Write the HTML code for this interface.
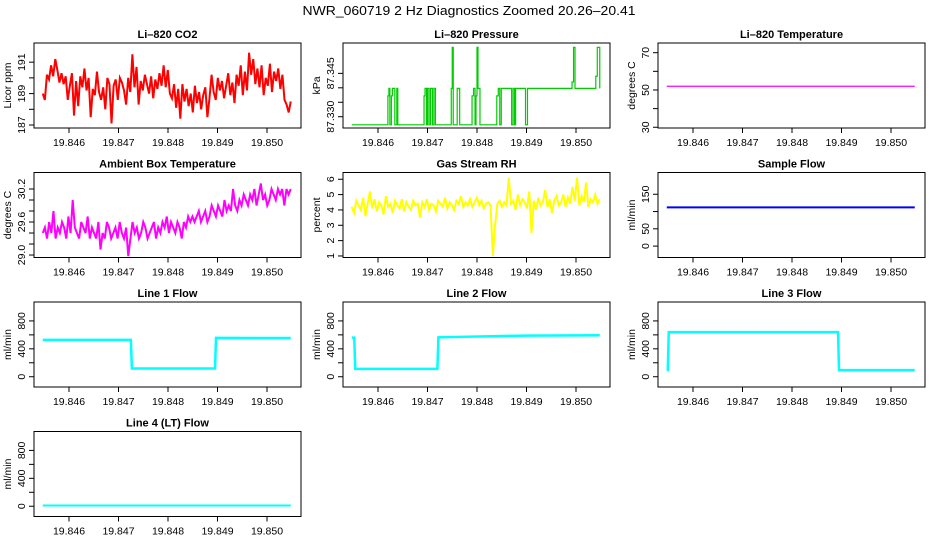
<!DOCTYPE html>
<html><head><meta charset="utf-8">
<style>
html,body{margin:0;padding:0;background:#fff;}
svg{display:block;font-family:"Liberation Sans",sans-serif;}
</style></head>
<body>
<svg id="fig" width="936" height="540" viewBox="0 0 936 540" xmlns="http://www.w3.org/2000/svg">
<rect width="936" height="540" fill="#fff"/>
<text x="469" y="15" text-anchor="middle" font-size="13" textLength="333" lengthAdjust="spacingAndGlyphs">NWR_060719  2 Hz Diagnostics Zoomed 20.26–20.41</text>
</svg>
<script>
// ---- data ----
const xTicks = [19.846, 19.847, 19.848, 19.849, 19.850];
const xTickLabels = ["19.846", "19.847", "19.848", "19.849", "19.850"];
const tStart = 19.84547;
const tEnd = 19.85048;

const co2Values = [189.0,188.6,190.2,189.9,190.8,190.1,191.2,190.5,189.7,190.3,189.6,190.1,188.6,189.5,190.3,187.6,189.8,188.2,190.1,189.4,190.6,189.2,190.0,187.5,189.3,188.9,190.4,189.1,188.6,189.4,188.0,190.0,189.6,187.1,189.5,189.9,188.6,190.0,189.7,189.2,188.3,190.0,189.1,191.5,189.4,190.7,188.3,189.8,189.2,190.2,189.6,189.0,190.1,188.7,189.9,189.3,190.3,189.5,190.8,189.4,190.5,189.0,188.7,189.6,188.1,189.3,187.4,189.6,188.5,189.3,188.2,189.0,187.8,189.5,188.4,189.1,188.0,188.9,189.4,187.5,188.7,190.2,189.1,188.6,190.0,189.2,189.8,188.7,189.5,190.3,188.9,189.7,188.4,190.2,189.5,190.8,188.9,190.4,189.2,191.6,190.2,191.2,189.6,190.6,189.4,190.8,188.9,190.0,189.5,190.9,189.1,190.4,189.8,190.6,189.3,190.2,188.6,188.3,187.8,188.5];

const ambientValues = [29.4,29.5,29.3,29.6,29.4,29.8,29.3,29.5,29.4,29.6,29.5,29.3,29.7,29.4,30.0,29.5,29.4,29.3,29.6,29.5,29.4,29.7,29.3,29.5,29.4,29.3,29.6,29.1,29.4,29.3,29.6,29.5,29.3,29.4,29.5,29.3,29.6,29.4,29.3,29.5,28.98,29.3,29.6,29.4,29.5,29.3,29.4,29.6,29.5,29.3,29.4,29.5,29.6,29.3,29.5,29.4,29.6,29.5,29.7,29.4,29.6,29.5,29.4,29.6,29.5,29.3,29.6,29.5,29.7,29.6,29.7,29.6,29.7,29.8,29.6,29.7,29.8,29.6,29.7,29.9,29.8,29.7,29.9,29.8,29.7,30.0,29.8,29.9,29.8,30.2,29.9,29.8,30.0,29.9,30.1,30.0,29.9,30.1,30.0,30.2,29.9,30.1,30.3,30.0,30.1,29.9,30.0,30.2,30.1,30.0,30.2,30.1,30.2,29.9,30.2,30.1,30.2];

const rhValues = [4.2,3.8,4.6,4.3,4.0,4.8,3.6,4.4,5.2,4.1,4.7,3.9,4.5,4.3,3.7,4.9,4.2,4.4,3.8,4.6,4.3,4.1,4.7,3.9,4.5,4.2,4.0,4.6,4.3,4.4,3.5,4.5,4.2,4.7,4.0,4.4,4.3,3.9,4.6,4.4,4.2,4.8,4.1,4.5,4.3,4.0,4.6,4.4,4.9,4.2,4.5,4.3,4.7,4.2,4.5,4.8,4.3,4.6,4.1,4.4,4.5,4.3,1.0,3.0,4.4,4.6,4.2,4.5,4.3,6.1,4.4,4.6,4.0,5.0,4.3,4.7,4.5,4.1,5.2,2.5,4.6,4.0,4.8,4.3,4.5,5.3,4.2,4.7,3.8,4.6,4.9,4.3,4.5,5.0,4.2,4.8,4.4,5.5,4.6,6.1,4.3,4.9,4.5,5.8,4.2,4.7,4.5,5.0,4.4,4.7];

const pressureTimes = [19.84547,19.84620,19.84622,19.84624,19.84627,19.84629,19.84634,19.84638,19.84640,19.84693,19.84695,19.84698,19.84700,19.84703,19.84706,19.84710,19.84713,19.84716,19.84748,19.84750,19.84752,19.84760,19.84765,19.84790,19.84793,19.84796,19.84798,19.84800,19.84802,19.84806,19.84840,19.84843,19.84846,19.84849,19.84870,19.84873,19.84876,19.84878,19.84898,19.84902,19.84992,19.84995,19.84998,19.85040,19.85043,19.85048];
const pressureValues = [87.3272,87.3372,87.3398,87.3272,87.3372,87.3398,87.3272,87.3398,87.3272,87.3372,87.3398,87.3272,87.3398,87.3272,87.3398,87.3272,87.3398,87.3272,87.3398,87.3540,87.3272,87.3398,87.3272,87.3372,87.3398,87.3272,87.3372,87.3540,87.3398,87.3272,87.3372,87.3398,87.3272,87.3398,87.3272,87.3398,87.3272,87.3398,87.3272,87.3398,87.3420,87.3540,87.3398,87.3440,87.3540,87.3398];

const liTempTimes = [19.84547, 19.85048];
const liTempValues = [52, 52];

const sampleFlowTimes = [19.84547, 19.85048];
const sampleFlowValues = [112, 112];

const line1Times = [19.84547,19.84725,19.84727,19.84895,19.84897,19.85048];
const line1Values = [528,528,118,118,557,555];
const line2Times = [19.84547,19.84552,19.84554,19.84720,19.84722,19.84900,19.85048];
const line2Values = [560,560,112,112,565,590,595];
const line3Times = [19.84547,19.84549,19.84551,19.84893,19.84895,19.85048];
const line3Values = [95,95,640,640,95,95];
const line4Times = [19.84547, 19.85048];
const line4Values = [10, 10];

// ---- layout ----
const NS = "http://www.w3.org/2000/svg";
const svg = document.getElementById("fig");
const colLeft = [34, 343, 658];
const rowTop = [43, 172.5, 302, 431.5];
const boxW = 267, boxH = 85;
const xMin = 19.846 - 35/49500, xMax = xMin + boxW/49500;

function mk(tag, attrs, parent) {
  const e = document.createElementNS(NS, tag);
  for (const k in attrs) e.setAttribute(k, attrs[k]);
  (parent || svg).appendChild(e);
  return e;
}

function panel(key, col, row, title, ylab, ymin, ymax, yTicks, yLabels, color, times, values, stepMode, lw) {
  const L = colLeft[col], T = rowTop[row];
  const g = mk("g", {});
  
  
  const xs = v => L + (v - xMin) / (xMax - xMin) * boxW;
  const ys = v => T + boxH - (v - ymin) / (ymax - ymin) * boxH;
  const t = mk("text", {x: L + boxW/2, y: T - 5, "text-anchor": "middle", "font-size": 11, "font-weight": "bold"}, g);
  t.textContent = title;
  
  
  let pts = [];
  for (let i = 0; i < values.length; i++) {
    const tv = times ? times[i] : tStart + (tEnd - tStart) * i / (values.length - 1);
    const px = xs(tv), py = ys(values[i]);
    if (stepMode && i > 0) pts.push(px.toFixed(2) + "," + pts[pts.length-1].split(",")[1]);
    pts.push(px.toFixed(2) + "," + py.toFixed(2));
  }
  const pl = mk("polyline", {points: pts.join(" "), fill: "none", stroke: color, "stroke-width": lw, "stroke-linejoin": "miter"}, g);
  
  
  const bx = mk("rect", {x: L, y: T, width: boxW, height: boxH, fill: "none", stroke: "#000", "stroke-width": 1}, g);
  
  
  const xa = mk("g", {}, g);
  
  
  mk("line", {x1: xs(xTicks[0]), x2: xs(xTicks[xTicks.length-1]), y1: T+boxH, y2: T+boxH, stroke: "#000"}, xa);
  xTicks.forEach((v, i) => {
    mk("line", {x1: xs(v), x2: xs(v), y1: T+boxH, y2: T+boxH+5, stroke: "#000"}, xa);
    const lt = mk("text", {x: xs(v), y: T+boxH+18, "text-anchor": "middle", "font-size": 10.5}, xa);
    lt.textContent = xTickLabels[i];
  });
  const ya = mk("g", {}, g);
  
  
  mk("line", {x1: L, x2: L, y1: ys(yTicks[0]), y2: ys(yTicks[yTicks.length-1]), stroke: "#000"}, ya);
  yTicks.forEach((v, i) => {
    const y = ys(v);
    mk("line", {x1: L-5, x2: L, y1: y, y2: y, stroke: "#000"}, ya);
    if (yLabels[i]) {
      const lt = mk("text", {x: L-9, y: y, "text-anchor": "middle", "font-size": 10.5, transform: `rotate(-90 ${L-9} ${y})`}, ya);
      lt.textContent = yLabels[i];
    }
  });
  const yl = mk("text", {x: L-23, y: T+boxH/2, "text-anchor": "middle", "font-size": 10.5, transform: `rotate(-90 ${L-23} ${T+boxH/2})`}, g);
  yl.textContent = ylab;
  
  
}

panel("co2", 0, 0, "Li–820 CO2", "Licor ppm", 186.81, 192.22, [187,188,189,190,191], ["187","","189","","191"], "#ff0000", null, co2Values, false, 2);
panel("pressure", 1, 0, "Li–820 Pressure", "kPa", 87.3261, 87.3555, [87.330,87.335,87.340,87.345], ["87.330","","","87.345"], "#00cc00", pressureTimes, pressureValues, true, 1.2);
panel("li820-temp", 2, 0, "Li–820 Temperature", "degrees C", 29.6, 75.2, [30,40,50,60,70], ["30","","50","","70"], "#ff00ff", liTempTimes, liTempValues, false, 1.2);
panel("ambient-temp", 0, 1, "Ambient Box Temperature", "degrees C", 28.955, 30.5, [29.0,29.2,29.4,29.6,29.8,30.0,30.2], ["29.0","","","29.6","","","30.2"], "#ff00ff", null, ambientValues, false, 2);
panel("rh", 1, 1, "Gas Stream RH", "percent", 0.90, 6.44, [1,2,3,4,5,6], ["1","2","3","4","5","6"], "#ffff00", null, rhValues, false, 2);
panel("sample-flow", 2, 1, "Sample Flow", "ml/min", -33, 213, [0,50,100,150], ["0","50","","150"], "#0000ff", sampleFlowTimes, sampleFlowValues, false, 2);
panel("line1-flow", 0, 2, "Line 1 Flow", "ml/min", -147, 1071, [0,200,400,600,800], ["0","","400","","800"], "#00ffff", line1Times, line1Values, false, 2.5);
panel("line2-flow", 1, 2, "Line 2 Flow", "ml/min", -147, 1071, [0,200,400,600,800], ["0","","400","","800"], "#00ffff", line2Times, line2Values, false, 2.5);
panel("line3-flow", 2, 2, "Line 3 Flow", "ml/min", -147, 1071, [0,200,400,600,800], ["0","","400","","800"], "#00ffff", line3Times, line3Values, false, 2.5);
panel("line4-flow", 0, 3, "Line 4 (LT) Flow", "ml/min", -147, 1071, [0,200,400,600,800], ["0","","400","","800"], "#00ffff", line4Times, line4Values, false, 2);
</script>
</body></html>
